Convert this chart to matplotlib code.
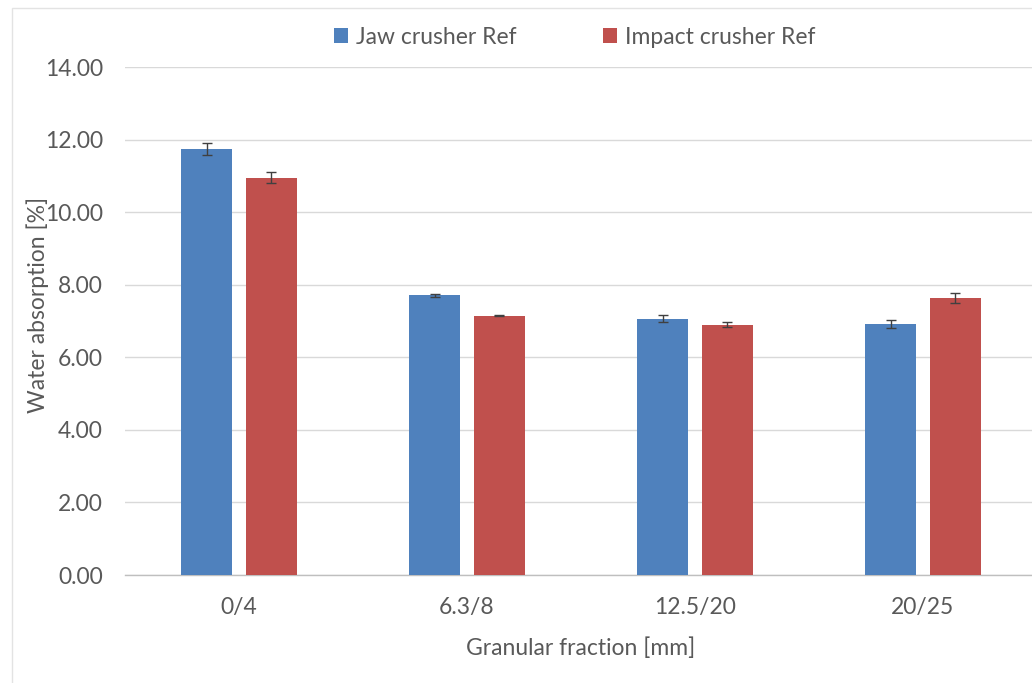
import matplotlib
matplotlib.use("Agg")
import matplotlib.pyplot as plt
from matplotlib.patches import Rectangle
import numpy as np

categories = ["0/4", "6.3/8", "12.5/20", "20/25"]
jaw_values = [11.74, 7.71, 7.06, 6.91]
jaw_errors = [0.17, 0.04, 0.10, 0.11]
impact_values = [10.95, 7.15, 6.90, 7.64]
impact_errors = [0.15, 0.02, 0.06, 0.13]
series_names = ["Jaw crusher Ref", "Impact crusher Ref"]

plt.rcParams['font.family'] = ['Lato', 'DejaVu Sans']
text_color = "#595959"
fs = 16.5

fig = plt.figure(figsize=(10.32, 6.83), dpi=100)

# light chart-area border
fig.patches.append(Rectangle((12 / 1032, -0.05), 1.2, 1.05 - 8 / 683,
                             transform=fig.transFigure, fill=False,
                             edgecolor="#E3E3E3", linewidth=1.0))

ax = fig.add_axes([0.1211, 0.1581, 0.8837, 0.7438])

x = np.arange(len(categories))
width = 0.224
offset = 0.1414
err_kw = dict(ecolor="#404040", elinewidth=1.0, capsize=3.5, capthick=1.0)
ax.bar(x - offset, jaw_values, width, yerr=jaw_errors, color="#4F81BD",
       label=series_names[0], error_kw=err_kw, zorder=3)
ax.bar(x + offset, impact_values, width, yerr=impact_errors, color="#C0504D",
       label=series_names[1], error_kw=err_kw, zorder=3)

ax.set_xlim(-0.5, 3.5)
ax.set_ylim(0, 14)
yticks = np.arange(0, 14.01, 2)
ax.set_yticks(yticks)
ax.set_yticklabels([f"{v:.2f}" for v in yticks])
ax.set_xticks(x)
ax.set_xticklabels(categories)
ax.tick_params(axis="both", length=0, labelsize=fs, colors=text_color)
ax.tick_params(axis="x", pad=16)
ax.tick_params(axis="y", pad=16)

ax.yaxis.grid(True, color="#D9D9D9", linewidth=1.0, zorder=0)
ax.set_axisbelow(True)
ax.patch.set_alpha(0)
for side in ["top", "right", "left"]:
    ax.spines[side].set_visible(False)
ax.spines["bottom"].set_color("#BFBFBF")
ax.spines["bottom"].set_linewidth(1.0)

ax.set_xlabel("Granular fraction [mm]", fontsize=fs, color=text_color, labelpad=14)
fig.text(38 / 1032, 1 - 305 / 683, "Water absorption [%]", rotation=90,
         ha="center", va="center", fontsize=fs, color=text_color)

leg = fig.legend(loc="center", bbox_to_anchor=(0.557, 1 - 37 / 683), ncol=2,
                 frameon=False, fontsize=fs, handlelength=0.6, handleheight=0.6,
                 columnspacing=3.8, handletextpad=0.35)
for t in leg.get_texts():
    t.set_color(text_color)

fig.savefig("out.png", dpi=100)
